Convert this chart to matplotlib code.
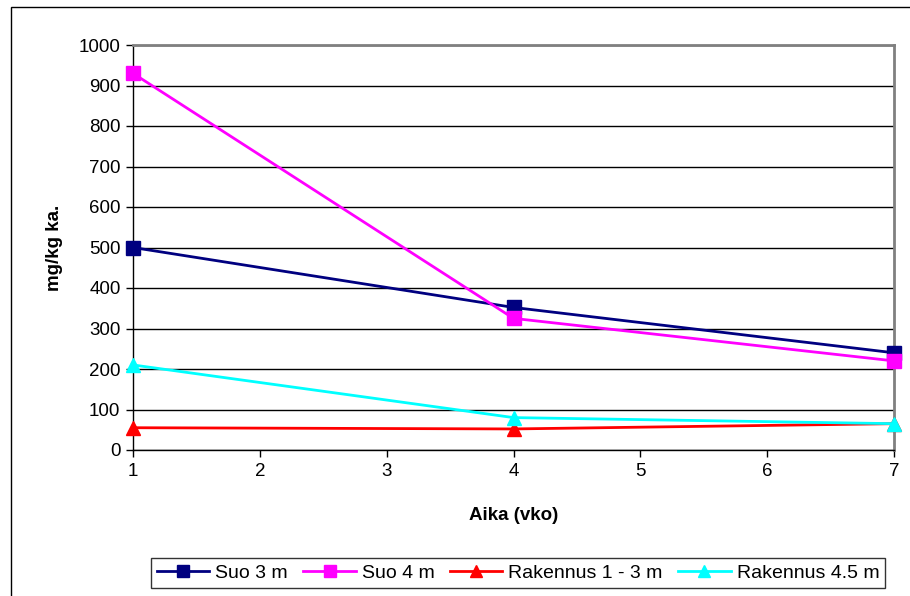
import matplotlib
matplotlib.use("Agg")
import matplotlib.pyplot as plt
from matplotlib.patches import Rectangle

plt.rcParams['font.family'] = ['Liberation Sans', 'DejaVu Sans']

weeks = [1, 4, 7]
suo_3m = [500, 352, 240]
suo_4m = [930, 325, 220]
rakennus_1_3m = [55, 52, 65]
rakennus_4_5m = [210, 80, 65]

series = [
    ("Suo 3 m", suo_3m, "#000080", "s"),
    ("Suo 4 m", suo_4m, "#FF00FF", "s"),
    ("Rakennus 1 - 3 m", rakennus_1_3m, "#FF0000", "^"),
    ("Rakennus 4.5 m", rakennus_4_5m, "#00FFFF", "^"),
]

fig = plt.figure(figsize=(9.10, 5.96), dpi=100)
W, H = 910, 596

# outer chart border
fig.patches.append(Rectangle((11 / W, -0.1), 1.2, 1 - 7 / H + 0.1,
                             transform=fig.transFigure, fill=False,
                             edgecolor="black", linewidth=1.0))

ax = fig.add_axes([133 / W, 1 - 450 / H, (894 - 133) / W, (450 - 45) / H])

for name, vals, color, marker in series:
    ax.plot(weeks, vals, color=color, linewidth=2, marker=marker,
            markersize=10, label=name, clip_on=False, zorder=3)

ax.set_xlim(1, 7)
ax.set_ylim(0, 1000)
ax.set_xticks(range(1, 8))
ax.set_yticks(range(0, 1001, 100))
ax.yaxis.grid(True, color="black", linewidth=1)
ax.set_axisbelow(True)

for side in ("top", "right"):
    ax.spines[side].set_color("#808080")
    ax.spines[side].set_linewidth(2)
for side in ("left", "bottom"):
    ax.spines[side].set_color("black")
    ax.spines[side].set_linewidth(1)

ax.tick_params(axis="both", labelsize=13.5, direction="out", length=5,
               width=1, color="black", pad=4)

ax.set_ylabel("mg/kg ka.", fontsize=13.5, fontweight="bold", labelpad=11)
ax.set_xlabel("Aika (vko)", fontsize=13.5, fontweight="bold", labelpad=20)

leg = fig.legend(loc="center", bbox_to_anchor=((143 + 893) / 2 / W, 1 - 573 / H),
                 ncol=4, fontsize=14, frameon=True, fancybox=False,
                 edgecolor="black", handlelength=2.7, handletextpad=0.3,
                 columnspacing=0.8, borderpad=0.3, markerscale=0.85)
leg.get_frame().set_linewidth(1)

fig.savefig("out.png", dpi=100)
